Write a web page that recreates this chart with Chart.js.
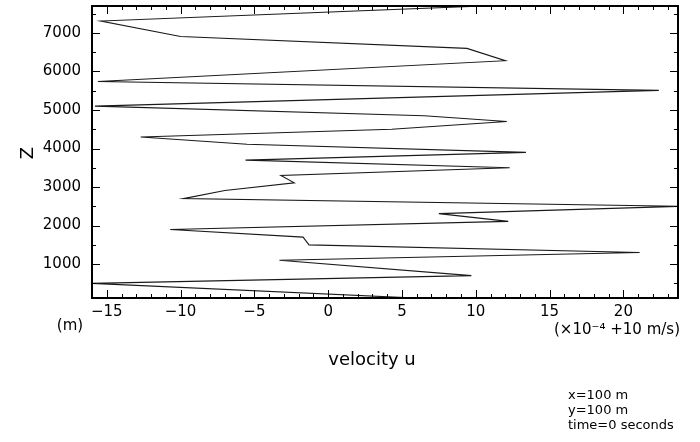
<!DOCTYPE html>
<html>
<head>
<meta charset="utf-8">
<script src="https://cdn.jsdelivr.net/npm/chart.js@4"></script>
<style>
  html, body { margin: 0; padding: 0; background: #fff; }
  #wrap { width: 700px; height: 442px; }
</style>
</head>
<body>
<div id="wrap"><canvas id="profile" width="700" height="442"></canvas></div>
<script>
// velocity profile
const heightZ = [100, 500, 700, 1100, 1300, 1500, 1700, 1900, 2110, 2310, 2500, 2700, 2910, 3110, 3300, 3500, 3700, 3900, 4110, 4300, 4500, 4700, 4850, 5100, 5510, 5740, 6280, 6600, 6910, 7310, 7700];
const velocityU = [7.0, -16.0, 9.7, -3.3, 21.1, -1.3, -1.7, -10.7, 12.2, 7.5, 23.8, -9.8, -7.0, -2.3, -3.2, 12.3, -5.6, 13.4, -5.5, -12.7, 4.3, 12.1, 6.5, -15.8, 22.4, -15.6, 12.0, 9.4, -10.0, -15.4, 10.5];

const xTicks = [-15, -10, -5, 0, 5, 10, 15, 20];
const yTicks = [1000, 2000, 3000, 4000, 5000, 6000, 7000];
const xMinorStep = 1;
const yMinorStep = 500;

const font = 'DejaVu Sans';

// ticks pointing inwards on all four sides, plus the frame
const frameTicks = {
    id: 'frameTicks',
    afterDraw(chart) {
        const ctx = chart.ctx;
        const area = chart.chartArea;
        const xs = chart.scales.x;
        const ys = chart.scales.y;
        ctx.save();
        ctx.strokeStyle = '#000';

        ctx.lineWidth = 1;
        ctx.beginPath();
        for (let v = Math.ceil(xs.min); v <= xs.max; v += xMinorStep) {
            const px = Math.round(xs.getPixelForValue(v)) + 0.5;
            const len = xTicks.includes(v) ? 8 : 4;
            ctx.moveTo(px, area.bottom); ctx.lineTo(px, area.bottom - len);
            ctx.moveTo(px, area.top); ctx.lineTo(px, area.top + len);
        }
        for (let v = Math.ceil(ys.min / yMinorStep) * yMinorStep; v <= ys.max; v += yMinorStep) {
            const py = Math.round(ys.getPixelForValue(v)) + 0.5;
            const len = yTicks.includes(v) ? 8 : 4;
            ctx.moveTo(area.left, py); ctx.lineTo(area.left + len, py);
            ctx.moveTo(area.right, py); ctx.lineTo(area.right - len, py);
        }
        ctx.stroke();

        ctx.lineWidth = 2;
        ctx.strokeRect(area.left, area.top, area.right - area.left, area.bottom - area.top);

        // labels around the frame
        ctx.fillStyle = '#000';
        ctx.textBaseline = 'middle';
        ctx.textAlign = 'center';
        ctx.font = '15px ' + font;
        ctx.fillText('(m)', 70, 326);
        ctx.fillText('(\u00d710\u207b\u2074 +10 m/s)', 617, 330);
        ctx.font = '18px ' + font;
        ctx.fillText('velocity u', 372, 360);

        ctx.textAlign = 'left';
        ctx.font = '13px ' + font;
        ctx.fillText('x=100 m', 568, 396);
        ctx.fillText('y=100 m', 568, 411);
        ctx.fillText('time=0 seconds', 568, 426);

        ctx.translate(28, 153);
        ctx.rotate(-Math.PI / 2);
        ctx.textAlign = 'center';
        ctx.font = '18px ' + font;
        ctx.fillText('Z', 0, 0);
        ctx.restore();
    }
};

const profileData = velocityU.map((u, i) => ({ x: u, y: heightZ[i] }));

new Chart(document.getElementById('profile'), {
    type: 'scatter',
    data: {
        datasets: [{
            data: profileData,
            showLine: true,
            borderColor: '#1a1a1a',
            borderWidth: 1.1,
            pointRadius: 0,
            tension: 0
        }]
    },
    options: {
        responsive: false,
        animation: false,
        layout: { padding: { top: 6, right: 22, left: 0, bottom: 0 } },
        plugins: {
            legend: { display: false },
            tooltip: { enabled: false }
        },
        scales: {
            x: {
                type: 'linear',
                min: -16,
                max: 23.7,
                afterBuildTicks: scale => { scale.ticks = xTicks.map(v => ({ value: v })); },
                afterFit: scale => {
                    scale.height = 144;
                    scale.paddingLeft = 0;
                    scale.paddingRight = 0;
                },
                grid: { display: false, drawTicks: false },
                border: { display: false },
                ticks: {
                    padding: 5,
                    color: '#000',
                    font: { family: font, size: 15 },
                    maxRotation: 0,
                    callback: v => (v < 0 ? '\u2212' + Math.abs(v) : String(v))
                }
            },
            y: {
                type: 'linear',
                min: 120,
                max: 7700,
                afterBuildTicks: scale => { scale.ticks = yTicks.map(v => ({ value: v })); },
                afterFit: scale => {
                    scale.width = 92;
                    scale.paddingTop = 0;
                    scale.paddingBottom = 0;
                },
                grid: { display: false, drawTicks: false },
                border: { display: false },
                ticks: {
                    padding: 11,
                    color: '#000',
                    font: { family: font, size: 15 },
                    callback: v => String(v)
                }
            }
        }
    },
    plugins: [frameTicks]
});
</script>
</body>
</html>
